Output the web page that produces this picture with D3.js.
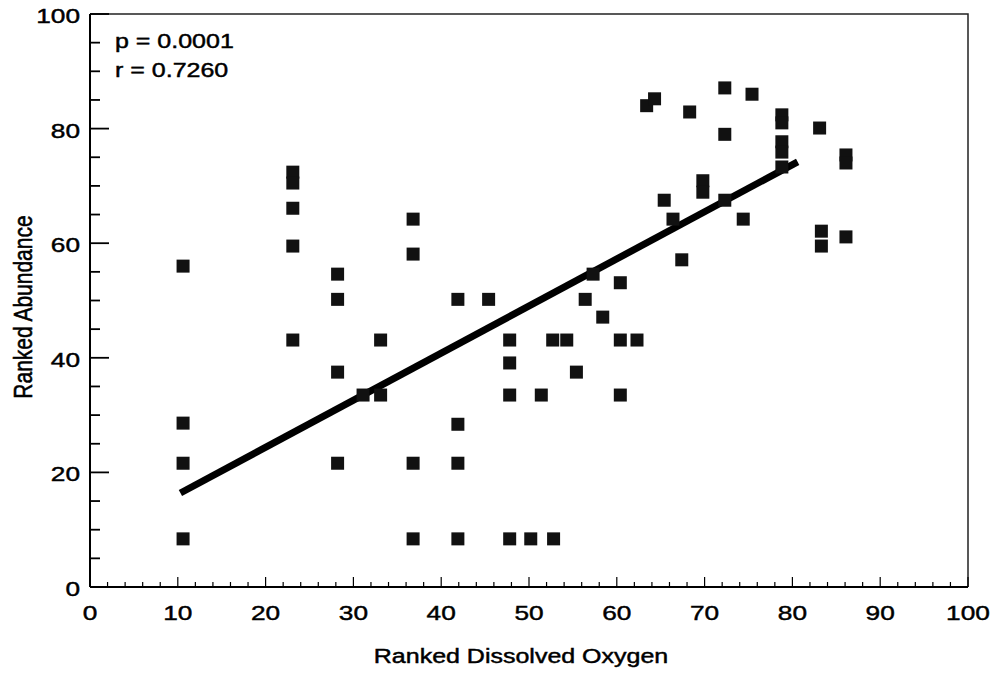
<!DOCTYPE html>
<html>
<head>
<meta charset="utf-8">
<script src="https://cdn.jsdelivr.net/npm/d3@7"></script>
<style>
  body { margin: 0; background: #fff; }
  text { font-family: "Liberation Sans", Arial, sans-serif; fill: #000; stroke: #000; stroke-width: 0.45px; }
</style>
</head>
<body>
<svg id="chart"></svg>
<script>
// ranked dissolved oxygen (x) vs ranked abundance (y)
let oxygen = [
  10.6, 10.6, 10.6, 10.6,
  23.1, 23.1, 23.1, 23.1, 23.1,
  28.2, 28.2, 28.2, 28.2,
  31.1, 33.1, 33.1,
  36.8, 36.8, 36.8, 36.8,
  41.9, 41.9, 41.9, 41.9,
  45.4, 47.8, 47.8, 47.8, 47.8,
  50.2, 51.4, 52.7, 52.8, 54.3, 55.4, 56.4, 57.3, 58.4,
  60.4, 60.4, 60.4, 62.3, 63.4, 64.3, 65.4, 66.4, 67.4, 68.3,
  69.8, 69.8, 72.3, 72.3, 72.3, 74.4, 75.4,
  78.8, 78.8, 78.8, 78.8, 78.8,
  83.1, 83.3, 83.3, 86.1, 86.1, 86.1
];
let abundance = [
  56.0, 28.6, 21.6, 8.4,
  72.4, 70.5, 66.1, 59.5, 43.1,
  54.6, 50.2, 37.5, 21.6,
  33.5, 43.1, 33.5,
  64.2, 58.1, 21.6, 8.4,
  50.2, 28.4, 21.6, 8.4,
  50.2, 43.1, 39.1, 33.5, 8.4,
  8.4, 33.5, 43.1, 8.4, 43.1, 37.5, 50.2, 54.6, 47.1,
  53.1, 43.1, 33.5, 43.1, 84.0, 85.2, 67.5, 64.2, 57.1, 82.9,
  70.9, 68.9, 87.1, 79.0, 67.5, 64.2, 86.0,
  82.4, 81.0, 77.7, 75.9, 73.3,
  80.1, 62.1, 59.5, 75.4, 74.0, 61.1
];

// fitted line end points
let fitX = [10.3, 80.6];
let fitY = [16.4, 74.2];

let xTicks = [0, 10, 20, 30, 40, 50, 60, 70, 80, 90, 100];
let yTicks = [0, 20, 40, 60, 80, 100];
let stats = ["p = 0.0001", "r = 0.7260"];

let width   = 999,
    height  = 674,
    stretch = 1.25,   // the scanned figure is wide
    x       = d3.scaleLinear().domain([0, 100]).range([90, 968]),
    y       = d3.scaleLinear().domain([0, 100]).range([587, 14]),
    msize   = 13;

let svg = d3.select("#chart").attr("width", width).attr("height", height);

// frame (top + right)
svg.append("path")
  .attr("d", `M${x(0)},${y(100)}H${x(100)}V${y(0)}`)
  .attr("fill", "none").attr("stroke", "#222").attr("stroke-width", 1.5);

/////////////////////
//      Axes       //
/////////////////////

// x axis: major every 10, minor every 2, ticks inward
let xAxis = svg.append("g");
xAxis.append("line")
  .attr("x1", x(0)).attr("x2", x(100)).attr("y1", y(0)).attr("y2", y(0))
  .attr("stroke", "#000").attr("stroke-width", 2);
xAxis.selectAll(".minor").data(d3.range(0, 101, 2)).enter().append("line")
  .attr("x1", d => x(d)).attr("x2", d => x(d))
  .attr("y1", y(0)).attr("y2", d => y(0) - (d % 10 === 0 ? 10 : 5))
  .attr("stroke", "#000").attr("stroke-width", 1.2);
xAxis.selectAll("text").data(xTicks).enter().append("text")
  .attr("transform", d => `translate(${x(d)},620) scale(${stretch},1)`)
  .attr("text-anchor", "middle")
  .style("font-size", "21px")
  .text(d => d);

// y axis: major every 20, minor every 5, ticks inward
let yAxis = svg.append("g");
yAxis.append("line")
  .attr("x1", x(0)).attr("x2", x(0)).attr("y1", y(0)).attr("y2", y(100))
  .attr("stroke", "#000").attr("stroke-width", 2);
yAxis.selectAll(".minor").data(d3.range(0, 101, 5)).enter().append("line")
  .attr("x1", x(0)).attr("x2", d => x(0) + (d % 20 === 0 ? 19 : 10))
  .attr("y1", d => y(d)).attr("y2", d => y(d))
  .attr("stroke", "#000").attr("stroke-width", 1.8);
yAxis.selectAll("text").data(yTicks).enter().append("text")
  .attr("transform", d => `translate(80,${y(d) + 9}) scale(${stretch},1)`)
  .attr("text-anchor", "end")
  .style("font-size", "21px")
  .text(d => d);

// axis titles
svg.append("text")
  .attr("transform", `translate(521,663) scale(${stretch},1)`)
  .attr("text-anchor", "middle")
  .style("font-size", "20px")
  .text("Ranked Dissolved Oxygen");

svg.append("text")
  .attr("transform", `translate(32,307) scale(${stretch},1) rotate(-90)`)
  .attr("text-anchor", "middle")
  .style("font-size", "21px")
  .text("Ranked Abundance");

/////////////////////
//     Marks       //
/////////////////////

svg.append("line")
  .attr("x1", x(fitX[0])).attr("y1", y(fitY[0]))
  .attr("x2", x(fitX[1])).attr("y2", y(fitY[1]))
  .attr("stroke", "#000").attr("stroke-width", 7);

svg.selectAll(".pt").data(oxygen).enter().append("rect")
  .attr("class", "pt")
  .attr("x", d => x(d) - msize / 2)
  .attr("y", (d, i) => y(abundance[i]) - msize / 2)
  .attr("width", msize).attr("height", msize)
  .attr("fill", "#111");

// stats
svg.selectAll(".stat").data(stats).enter().append("text")
  .attr("class", "stat")
  .attr("transform", (d, i) => `translate(115,${48 + i * 29}) scale(${stretch},1)`)
  .style("font-size", "20px")
  .text(d => d);
</script>
</body>
</html>
